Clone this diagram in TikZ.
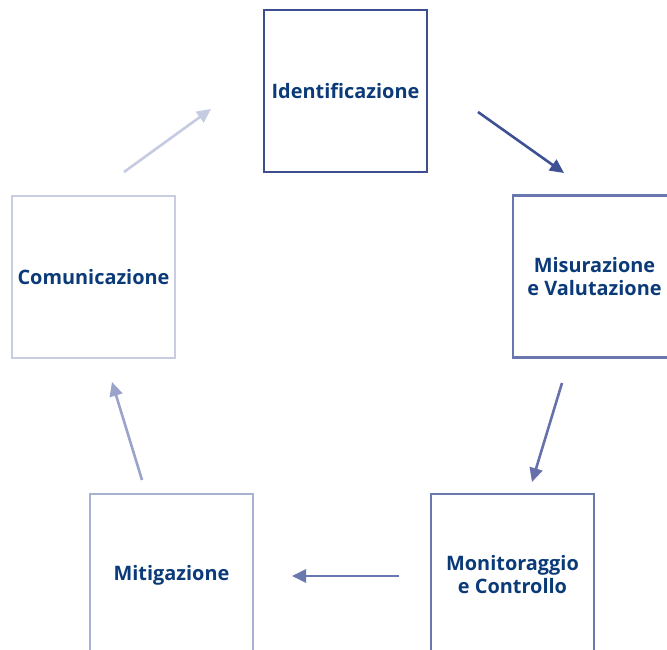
\documentclass[tikz,border=0pt]{standalone}
\usepackage{fontspec}
\setmainfont{Open Sans}
\usetikzlibrary{arrows.meta}
\definecolor{txt}{HTML}{0B3A78}
\definecolor{cA}{HTML}{3D4F8E}
\definecolor{cB}{HTML}{6A77AE}
\definecolor{cC}{HTML}{6C79AF}
\definecolor{cD}{HTML}{A9B1D2}
\definecolor{cE}{HTML}{C8CDE2}
\definecolor{aA}{HTML}{3D5194}
\definecolor{aB}{HTML}{6671AC}
\definecolor{aC}{HTML}{6A78B0}
\definecolor{aD}{HTML}{9AA3C9}
\definecolor{aE}{HTML}{C5CBE0}
\tikzset{
  stagebox/.style={draw, line width=2.2pt, minimum width=163pt, minimum height=162pt,
    inner sep=0pt, align=center, text=txt, font=\bfseries\fontsize{19.9}{23}\selectfont},
  flow/.style={line width=2.6pt, -{Triangle[length=14pt,width=13pt]}}
}
\begin{document}
\begin{tikzpicture}[x=1pt,y=-1pt]
\useasboundingbox (0,0) rectangle (667,650);
\clip (0,0) rectangle (667,650);
\node[stagebox, draw=cA] (ide) at (345.5,91) {Identificazione};
\node[stagebox, draw=cB] (mis) at (594.5,276.5) {Misurazione\\e Valutazione};
\node[stagebox, draw=cC] (mon) at (512.5,575) {Monitoraggio\\e Controllo};
\node[stagebox, draw=cD] (mit) at (171.5,575) {Mitigazione};
\node[stagebox, draw=cE] (com) at (93.5,277) {Comunicazione};
\coordinate (a1s) at (478,112); \coordinate (a1e) at (564,173);
\coordinate (a2s) at (562,383); \coordinate (a2e) at (532,482);
\coordinate (a3s) at (399,576); \coordinate (a3e) at (292,576);
\coordinate (a4s) at (142,480); \coordinate (a4e) at (112,382);
\coordinate (a5s) at (124,172); \coordinate (a5e) at (211,109);
\draw[flow, draw=aA, fill=aA] (a1s) -- (a1e);
\draw[flow, draw=aB, fill=aB] (a2s) -- (a2e);
\draw[flow, draw=aC, fill=aC] (a3s) -- (a3e);
\draw[flow, draw=aD, fill=aD] (a4s) -- (a4e);
\draw[flow, draw=aE, fill=aE] (a5s) -- (a5e);
\end{tikzpicture}
\end{document}
